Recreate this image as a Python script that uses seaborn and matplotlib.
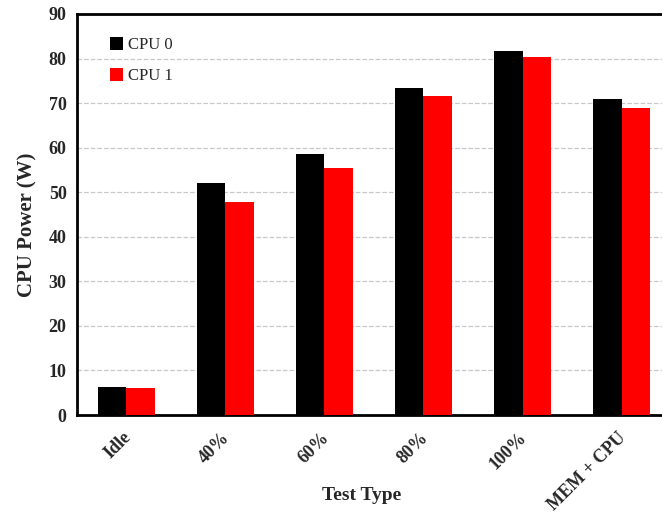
import pandas as pd
import matplotlib.pyplot as plt
import matplotlib.transforms as mtransforms
import seaborn as sns

tests = ['Idle', '40%', '60%', '80%', '100%', 'MEM + CPU']
cpu0 = [6.3, 52.0, 58.5, 73.3, 81.7, 71.0]
cpu1 = [6.1, 47.8, 55.4, 71.7, 80.3, 69.0]

df = pd.DataFrame({
    'Test Type': tests * 2,
    'Power': cpu0 + cpu1,
    'CPU': ['CPU 0'] * len(tests) + ['CPU 1'] * len(tests),
})

sns.set_style('white')
plt.rcParams['font.family'] = ['Liberation Serif', 'DejaVu Serif']

fig = plt.figure(figsize=(6.62, 5.14), dpi=100)
ax = fig.add_axes([0.1163, 0.1926, 0.8973, 0.7802])
sns.barplot(data=df, x='Test Type', y='Power', hue='CPU',
            palette=['#000000', '#ff0000'], saturation=1, width=0.57,
            linewidth=0, ax=ax, zorder=3)

ax.set_ylim(0, 90)
ax.set_xlim(-0.5, 5.5)
ax.set_yticks(range(0, 91, 10))
ax.yaxis.grid(True, linestyle='--', color='#c8c8c8', linewidth=0.9, zorder=0)
ax.set_axisbelow(True)

# ticks between categories, pointing inward
ax.set_xticks([i + 0.5 for i in range(5)], minor=True)
ax.set_xticks(range(len(tests)))
ax.set_xticklabels(tests, rotation=45, ha='right', rotation_mode='anchor',
                   fontsize=13, fontweight='bold')
ax.tick_params(axis='x', which='major', length=0, pad=10)
ax.tick_params(axis='x', which='minor', direction='in', length=5, width=1.5)
ax.tick_params(axis='y', direction='out', length=4, width=1.2, labelsize=13)
shift = mtransforms.ScaledTranslation(-4 / 100, 0, fig.dpi_scale_trans)
for t in ax.get_xticklabels():
    t.set_transform(t.get_transform() + shift)
for t in ax.get_yticklabels():
    t.set_fontweight('bold')

for s in ax.spines.values():
    s.set_linewidth(2)
    s.set_color('black')

ax.set_xlabel('Test Type', fontsize=14, fontweight='bold')
ax.xaxis.set_label_coords(0.48, -0.18)
ax.set_ylabel('CPU Power (W)', fontsize=15, fontweight='bold')
ax.yaxis.set_label_coords(-0.066, 0.475)

ax.legend(frameon=False, loc='upper left', bbox_to_anchor=(0.03, 0.98),
          fontsize=12, handlelength=0.8, handleheight=0.8, handletextpad=0.3,
          labelspacing=0.9)

fig.savefig('out.png', dpi=100)
